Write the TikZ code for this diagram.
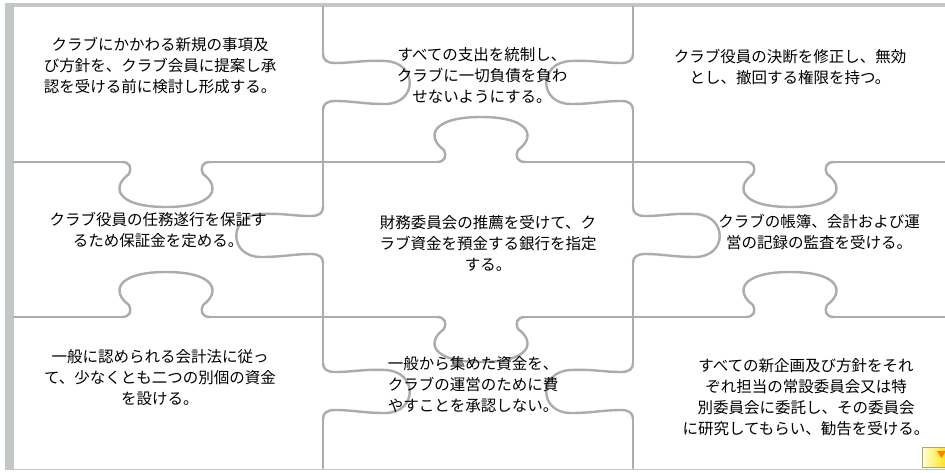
\documentclass[tikz,border=0pt]{standalone}
\usepackage{fontspec}
\newfontfamily\jp{Noto Sans CJK JP}
\definecolor{cutgray}{RGB}{172,172,172}
\definecolor{bandgray}{RGB}{196,200,196}
\definecolor{iconedge}{RGB}{170,170,110}
\newcommand\pzdome[3]{\draw[cut,shift={(#1,#2)},yscale=#3] (-44,0) .. controls (-36,0) and (-34,6) .. (-37,12) .. controls (-55,25) and (-50,45) .. (0,45) .. controls (50,45) and (55,25) .. (37,12) .. controls (34,6) and (36,0) .. (44,0);}
\newcommand\pzside[3]{\draw[cut,shift={(#1,#2)},xscale=#3] (0,-28) .. controls (0,-22) and (4,-19) .. (12,-19) .. controls (30,-19) and (40,-22) .. (62,-21) .. controls (95,-20) and (95,22) .. (62,22) .. controls (40,22) and (30,19) .. (12,19) .. controls (4,19) and (0,22) .. (0,28);}
\begin{document}
\begin{tikzpicture}[x=1pt,y=-1pt,
  cut/.style={line width=2.4pt,draw=cutgray,line cap=round,line join=round},
  txt/.style={font=\jp\fontsize{15.5}{21}\selectfont,align=center,inner sep=0pt,text=black}]
\useasboundingbox (0,0) rectangle (945,472);
\fill[white] (0,0) rectangle (945,472);
% outer frame
\fill[bandgray] (5,3) rectangle (945,7);
\fill[bandgray] (5,3) rectangle (14,470);
\draw[cutgray!70,line width=1pt] (14,469) -- (945,469);
% horizontal cuts
\draw[cut] (14,162) -- (122,162);
\draw[cut] (210,162) -- (437,162);
\draw[cut] (525,162) -- (746,162);
\draw[cut] (834,162) -- (945,162);
\pzdome{166}{162}{1}
\pzdome{481}{162}{-1}
\pzdome{790}{162}{1}
\draw[cut] (14,317) -- (122,317);
\draw[cut] (210,317) -- (437,317);
\draw[cut] (525,317) -- (746,317);
\draw[cut] (834,317) -- (945,317);
\pzdome{166}{317}{-1}
\pzdome{481}{317}{1}
\pzdome{790}{317}{-1}
% vertical cuts
\draw[cut] (323,7) -- (323,54);
\draw[cut] (323,110) -- (323,207);
\draw[cut] (323,263) -- (323,363);
\draw[cut] (323,419) -- (323,468);
\pzside{323}{82}{1}
\pzside{323}{235}{-1}
\pzside{323}{391}{1}
\draw[cut] (633,7) -- (633,54);
\draw[cut] (633,110) -- (633,207);
\draw[cut] (633,263) -- (633,363);
\draw[cut] (633,419) -- (633,468);
\pzside{633}{82}{-1}
\pzside{633}{235}{1}
\pzside{633}{391}{-1}
% texts
\node[txt] (t1) at (160,66) {クラブにかかわる新規の事項及\\び方針を、クラブ会員に提案し承\\認を受ける前に検討し形成する。};
\node[txt] (t2) at (482,75) {すべての支出を統制し、\\クラブに一切負債を負わ\\せないようにする。};
\node[txt] (t3) at (790,67) {クラブ役員の決断を修正し、無効\\とし、撤回する権限を持つ。};
\node[txt] (t4) at (158,230) {クラブ役員の任務遂行を保証す\\るため保証金を定める。};
\node[txt] (t5) at (488,243) {財務委員会の推薦を受けて、ク\\ラブ資金を預金する銀行を指定\\する。};
\node[txt] (t6) at (819,232) {クラブの帳簿、会計および運\\営の記録の監査を受ける。};
\node[txt] (t7) at (160,378) {一般に認められる会計法に従っ\\て、少なくとも二つの別個の資金\\を設ける。};
\node[txt] (t8) at (473,385) {一般から集めた資金を、\\クラブの運営のために費\\やすことを承認しない。};
\node[txt] (t9) at (806,397) {すべての新企画及び方針をそれ\\ぞれ担当の常設委員会又は特\\別委員会に委託し、その委員会\\に研究してもらい、勧告を受ける。};
% small icon
\node[draw=iconedge,line width=1pt,left color=yellow!15,right color=yellow!75!orange,minimum width=26pt,minimum height=20pt,inner sep=0pt,anchor=north west] (icon) at (922,447) {};
\fill[orange] (937,451) -- (946,451) -- (941.5,458) -- cycle;
\end{tikzpicture}
\end{document}
